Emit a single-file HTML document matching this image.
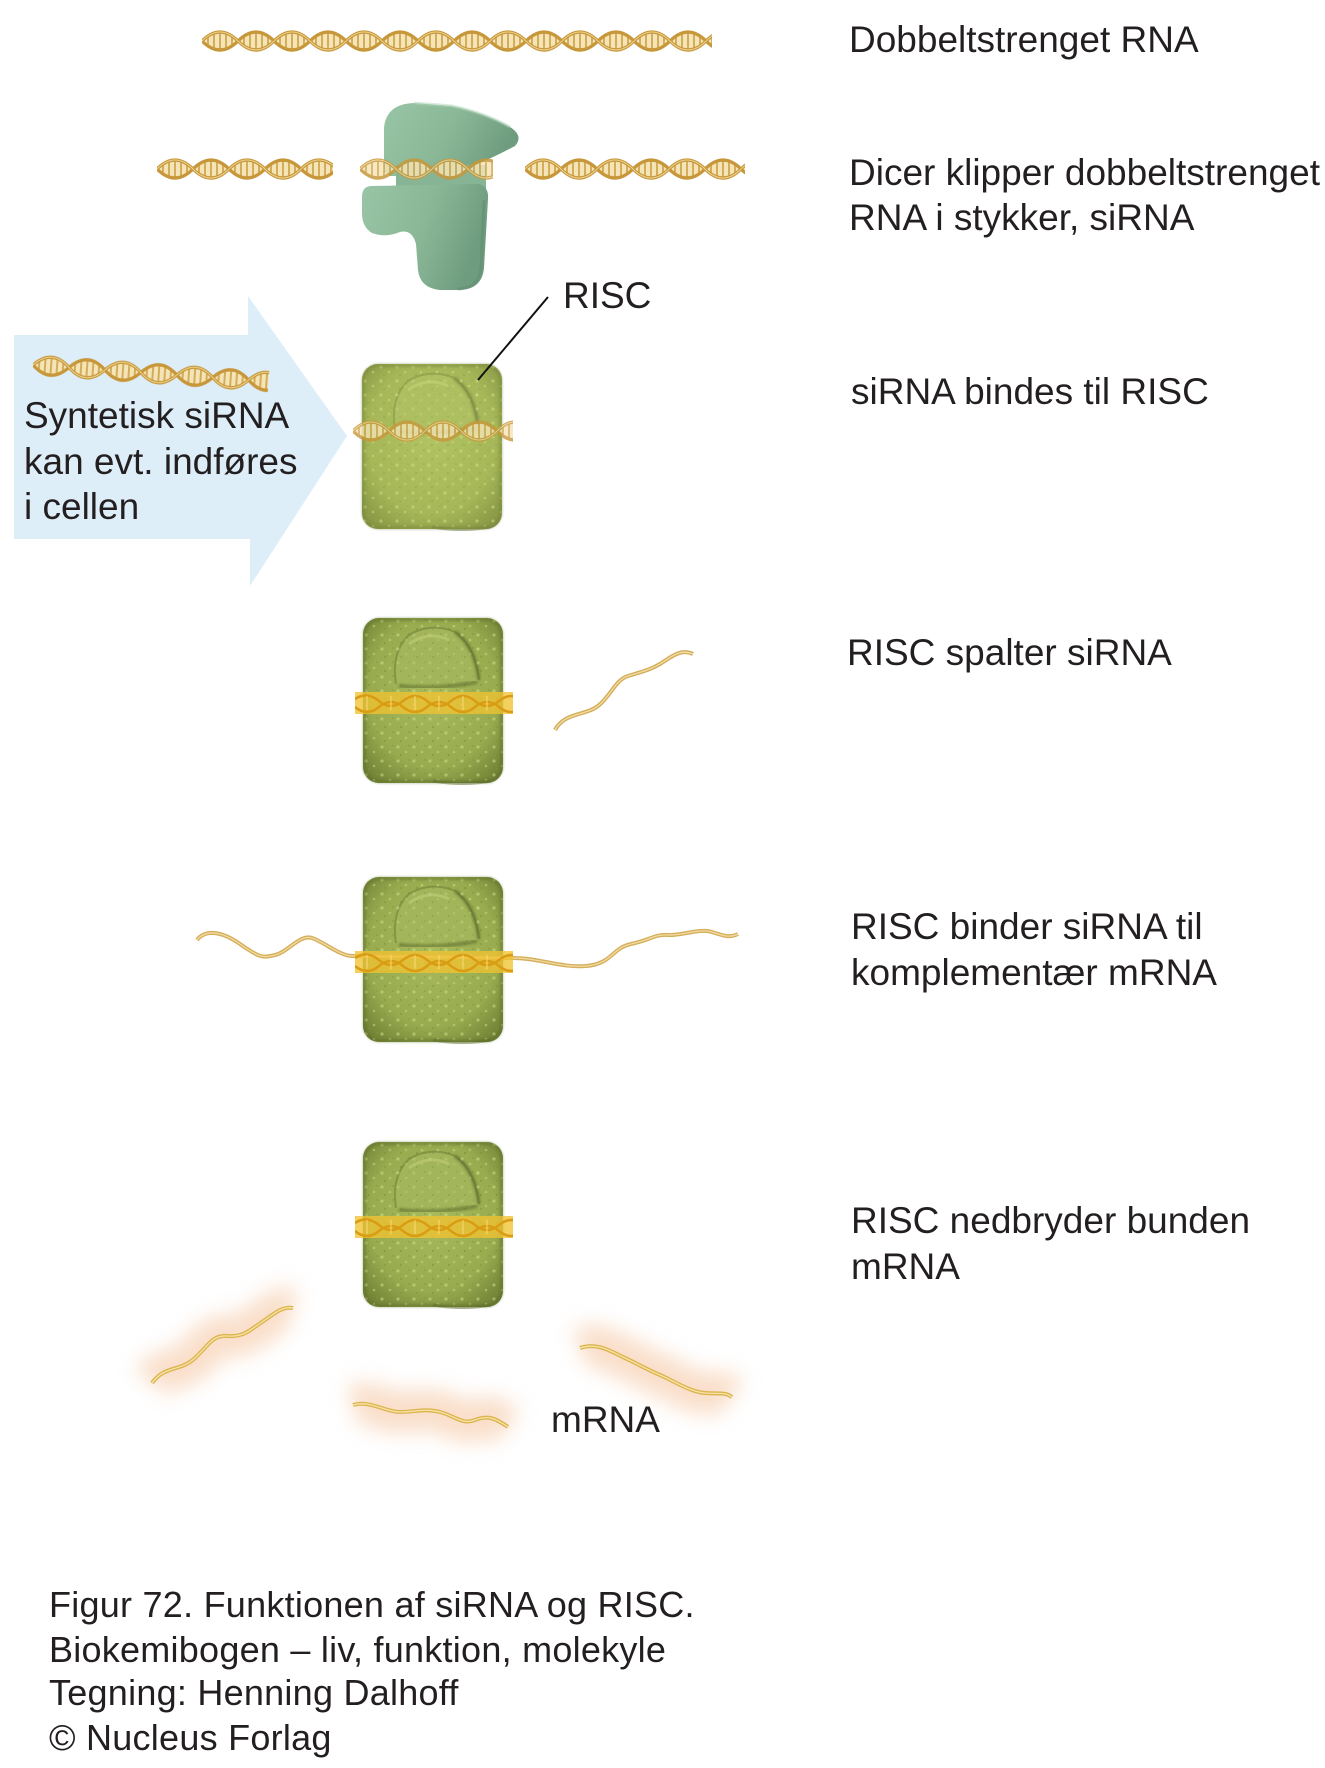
<!DOCTYPE html>
<html>
<head>
<meta charset="utf-8">
<style>
  html, body { margin:0; padding:0; background:#ffffff; }
  body { width:1325px; height:1768px; overflow:hidden; }
  svg { display:block; }
  .lbl { font-family:"Liberation Sans", Arial, sans-serif; font-size:37px; fill:#231f20; }
  .cap { font-family:"Liberation Sans", Arial, sans-serif; font-size:36px; fill:#231f20; letter-spacing:0.25px; }
</style>
</head>
<body>
<svg width="1325" height="1768" viewBox="0 0 1325 1768" xmlns="http://www.w3.org/2000/svg">
  <defs>
    <pattern id="hx" width="72" height="26" patternUnits="userSpaceOnUse">
      <path d="M0,13 Q18,-5 36,13 Q18,31 0,13 Z" fill="#f4e4b6"/>
      <path d="M36,13 Q54,31 72,13 Q54,-5 36,13 Z" fill="#f4e4b6"/>
      <g stroke="#d3ad5c" stroke-width="2">
        <line x1="6" y1="8.5" x2="6" y2="17.5"/>
        <line x1="12" y1="5.2" x2="12" y2="20.8"/>
        <line x1="18" y1="4" x2="18" y2="22"/>
        <line x1="24" y1="5.2" x2="24" y2="20.8"/>
        <line x1="30" y1="8.5" x2="30" y2="17.5"/>
        <line x1="42" y1="8.5" x2="42" y2="17.5"/>
        <line x1="48" y1="5.2" x2="48" y2="20.8"/>
        <line x1="54" y1="4" x2="54" y2="22"/>
        <line x1="60" y1="5.2" x2="60" y2="20.8"/>
        <line x1="66" y1="8.5" x2="66" y2="17.5"/>
      </g>
      <path d="M0,13 Q18,-5 36,13 T72,13" fill="none" stroke="#c7973a" stroke-width="3.2"/>
      <path d="M0,13 Q18,31 36,13 T72,13" fill="none" stroke="#c7973a" stroke-width="3.2"/>
      <path d="M0,13 Q18,-5 36,13 T72,13" fill="none" stroke="#edd28f" stroke-width="1"/>
    </pattern>

    <radialGradient id="rg" cx="50%" cy="45%" r="70%">
      <stop offset="0" stop-color="#a8ba5c"/>
      <stop offset="0.65" stop-color="#98ab4f"/>
      <stop offset="1" stop-color="#6d7d33"/>
    </radialGradient>
    <pattern id="speck" width="16" height="14" patternUnits="userSpaceOnUse">
      <circle cx="3" cy="3" r="1.6" fill="#d0db8a"/>
      <circle cx="11" cy="8" r="1.3" fill="#c9d57f"/>
      <circle cx="6" cy="11" r="1.1" fill="#7f9038"/>
      <circle cx="14" cy="2" r="1" fill="#85963c"/>
    </pattern>
    <linearGradient id="dg" x1="0" y1="0" x2="1" y2="0.3">
      <stop offset="0" stop-color="#98c5a5"/>
      <stop offset="0.55" stop-color="#8ab897"/>
      <stop offset="1" stop-color="#6e9c7e"/>
    </linearGradient>
    <filter id="blur" x="-50%" y="-50%" width="200%" height="200%">
      <feGaussianBlur stdDeviation="10"/>
    </filter>
    <filter id="soft" x="-10%" y="-10%" width="120%" height="120%">
      <feGaussianBlur stdDeviation="1.2"/>
    </filter>
    <clipPath id="bandclip"><rect x="-8" y="70" width="158" height="30"/></clipPath>

    <g id="risc">
      <rect x="0" y="0" width="140" height="165" rx="16" fill="url(#rg)"/>
      <rect x="0" y="0" width="140" height="165" rx="16" fill="url(#speck)" opacity="0.55"/>
      <rect x="1.5" y="1.5" width="137" height="162" rx="15" fill="none" stroke="#5e6e2a" stroke-width="3" opacity="0.55" filter="url(#soft)"/>
      <path d="M70,163 Q100,168 128,163" fill="none" stroke="#5e6e2a" stroke-width="3" opacity="0.5"/>
      <path d="M33,66 Q28,34 46,17 Q68,4 92,14 Q112,28 116,62 Q76,70 33,66 Z" fill="#a2b55a"/>
      <path d="M33,66 Q28,34 46,17 Q68,4 92,14 Q112,28 116,62" fill="none" stroke="#6e7e34" stroke-width="2" opacity="0.55"/>
      <path d="M92,14 Q112,28 116,62" fill="none" stroke="#56662a" stroke-width="4" opacity="0.55" filter="url(#soft)"/>
      <path d="M36,68 Q76,72 114,64" fill="none" stroke="#55652a" stroke-width="4" opacity="0.55" filter="url(#soft)"/>
      <path d="M46,26 Q66,12 86,22" fill="none" stroke="#c6d27e" stroke-width="3" opacity="0.5"/>
      <rect x="33" y="8" width="83" height="60" rx="24" fill="url(#speck)" opacity="0.35"/>
    </g>

    <g id="band">
      <g clip-path="url(#bandclip)">
        <rect x="-8" y="74" width="158" height="22" fill="#f1c332" opacity="0.78"/>
        <path d="M-8,81 Q4,73 16,83 T40,83 T64,83 T88,83 T112,83 T136,83 T160,83" fill="none" stroke="#d99c12" stroke-width="2.5"/>
        <path d="M-8,89 Q4,99 16,89 T40,89 T64,89 T88,89 T112,89 T136,89 T160,89" fill="none" stroke="#d99c12" stroke-width="2.5"/>
        <g stroke="#f8dc7a" stroke-width="1.2" opacity="0.8">
          <line x1="4" y1="78" x2="4" y2="92"/><line x1="28" y1="78" x2="28" y2="92"/>
          <line x1="52" y1="78" x2="52" y2="92"/><line x1="76" y1="78" x2="76" y2="92"/>
          <line x1="100" y1="78" x2="100" y2="92"/><line x1="124" y1="78" x2="124" y2="92"/>
        </g>
      </g>
    </g>
  </defs>

  <!-- Blue arrow -->
  <polygon points="14,335 248,335 248,296 347,436 250,586 250,539 14,539" fill="#ddeef9"/>

  <!-- Row 1: dsRNA -->
  <g transform="translate(202,28)"><rect width="510" height="26" fill="url(#hx)"/></g>

  <!-- Row 2: Dicer + cut RNA -->
  <path d="M384,172 L384,128 Q386,104 414,103 L452,106 Q485,113 510,127 Q524,136 515,146 Q496,156 480,163 L480,176 L390,176 Z" fill="url(#dg)"/>
  <path d="M414,103 L452,106 Q485,113 510,127" fill="none" stroke="#b1d6bb" stroke-width="3" opacity="0.5"/>
  <rect x="396" y="165" width="90" height="26" fill="#86b495"/>
  <path d="M372,186 L478,184 Q489,186 488,199 L484,268 Q482,290 458,290 L440,290 Q420,288 418,270 L416,244 Q412,229 400,232 Q385,238 372,233 Q362,227 362,213 L362,197 Q362,186 372,186 Z" fill="url(#dg)"/>
  <path d="M484,200 L481,268 Q479,288 458,289" fill="none" stroke="#5f8c6f" stroke-width="3" opacity="0.5"/>
  <g transform="translate(157,156)"><rect width="176" height="26" fill="url(#hx)"/></g>
  <g transform="translate(360,156)" opacity="0.85"><rect width="133" height="26" fill="url(#hx)"/></g>
  <g transform="translate(525,156)"><rect width="220" height="26" fill="url(#hx)"/></g>

  <!-- Arrow helix -->
  <g transform="translate(34,352) rotate(4)"><rect width="236" height="26" fill="url(#hx)"/></g>

  <!-- Row 3: RISC 1 -->
  <g transform="translate(362,364)">
    <use href="#risc"/>
    <rect x="0" y="0" width="140" height="165" rx="16" fill="#d4e27a" opacity="0.22"/>
  </g>
  <line x1="548" y1="297" x2="478" y2="380" stroke="#111" stroke-width="2"/>
  <g transform="translate(353,418)" opacity="0.8"><rect width="160" height="26" fill="url(#hx)"/></g>

  <!-- Row 4: RISC 2 -->
  <g transform="translate(363,618)">
    <use href="#risc"/>
    <use href="#band"/>
  </g>
  <path d="M555,730 C565,712 585,716 598,706 S615,680 628,676 S650,670 660,664 S680,648 693,654" fill="none" stroke="#d3ac5a" stroke-width="4"/>
  <path d="M555,730 C565,712 585,716 598,706 S615,680 628,676 S650,670 660,664 S680,648 693,654" fill="none" stroke="#f2dea4" stroke-width="1.3"/>

  <!-- Row 5: RISC 3 -->
  <g transform="translate(363,877)">
    <use href="#risc"/>
  </g>
  <path d="M197,940 C205,930 220,930 240,944 S262,958 275,955 S300,934 312,938 S340,956 352,956 L513,958 C540,958 560,968 586,966 S612,948 631,944 S655,934 668,935 S700,928 712,932 S730,938 738,934" fill="none" stroke="#d5ae5c" stroke-width="4"/>
  <path d="M197,940 C205,930 220,930 240,944 S262,958 275,955 S300,934 312,938 S340,956 352,956 L513,958 C540,958 560,968 586,966 S612,948 631,944 S655,934 668,935 S700,928 712,932 S730,938 738,934" fill="none" stroke="#f1dca0" stroke-width="1.3"/>
  <g transform="translate(363,877)"><use href="#band"/></g>

  <!-- Row 6: RISC 4 -->
  <g transform="translate(363,1142)">
    <use href="#risc"/>
    <use href="#band"/>
  </g>

  <!-- mRNA fragments with glow -->
  <g filter="url(#blur)" opacity="0.55">
    <path d="M152,1383 C165,1365 180,1372 195,1358 S212,1335 228,1336 S250,1330 262,1322 S282,1306 293,1308" fill="none" stroke="#f5c49f" stroke-width="42"/>
    <path d="M353,1405 C370,1400 385,1412 400,1412 S425,1408 440,1412 S462,1425 475,1420 S495,1418 508,1427" fill="none" stroke="#f5c49f" stroke-width="42"/>
    <path d="M580,1348 C598,1342 612,1352 625,1358 S648,1370 660,1375 S690,1392 705,1393 S725,1392 732,1397" fill="none" stroke="#f5c49f" stroke-width="42"/>
  </g>
  <g fill="none" stroke="#dcb44e" stroke-width="4">
    <path d="M152,1383 C165,1365 180,1372 195,1358 S212,1335 228,1336 S250,1330 262,1322 S282,1306 293,1308"/>
    <path d="M353,1405 C370,1400 385,1412 400,1412 S425,1408 440,1412 S462,1425 475,1420 S495,1418 508,1427"/>
    <path d="M580,1348 C598,1342 612,1352 625,1358 S648,1370 660,1375 S690,1392 705,1393 S725,1392 732,1397"/>
  </g>
  <g fill="none" stroke="#f6e4a8" stroke-width="1.3">
    <path d="M152,1383 C165,1365 180,1372 195,1358 S212,1335 228,1336 S250,1330 262,1322 S282,1306 293,1308"/>
    <path d="M353,1405 C370,1400 385,1412 400,1412 S425,1408 440,1412 S462,1425 475,1420 S495,1418 508,1427"/>
    <path d="M580,1348 C598,1342 612,1352 625,1358 S648,1370 660,1375 S690,1392 705,1393 S725,1392 732,1397"/>
  </g>

  <!-- Labels -->
  <text class="lbl" x="849" y="52">Dobbeltstrenget RNA</text>
  <text class="lbl" x="849" y="185">Dicer klipper dobbeltstrenget</text>
  <text class="lbl" x="849" y="230">RNA i stykker, siRNA</text>
  <text class="lbl" x="563" y="308">RISC</text>
  <text class="lbl" x="851" y="404">siRNA bindes til RISC</text>
  <text class="lbl" x="24" y="428">Syntetisk siRNA</text>
  <text class="lbl" x="24" y="474">kan evt. indføres</text>
  <text class="lbl" x="24" y="519">i cellen</text>
  <text class="lbl" x="847" y="665">RISC spalter siRNA</text>
  <text class="lbl" x="851" y="939">RISC binder siRNA til</text>
  <text class="lbl" x="851" y="985">komplementær mRNA</text>
  <text class="lbl" x="851" y="1233">RISC nedbryder bunden</text>
  <text class="lbl" x="851" y="1279">mRNA</text>
  <text class="lbl" x="551" y="1432">mRNA</text>

  <!-- Caption -->
  <text class="cap" x="49" y="1617">Figur 72. Funktionen af siRNA og RISC.</text>
  <text class="cap" x="49" y="1662">Biokemibogen – liv, funktion, molekyle</text>
  <text class="cap" x="49" y="1705">Tegning: Henning Dalhoff</text>
  <text class="cap" x="49" y="1750">© Nucleus Forlag</text>
</svg>
</body>
</html>
